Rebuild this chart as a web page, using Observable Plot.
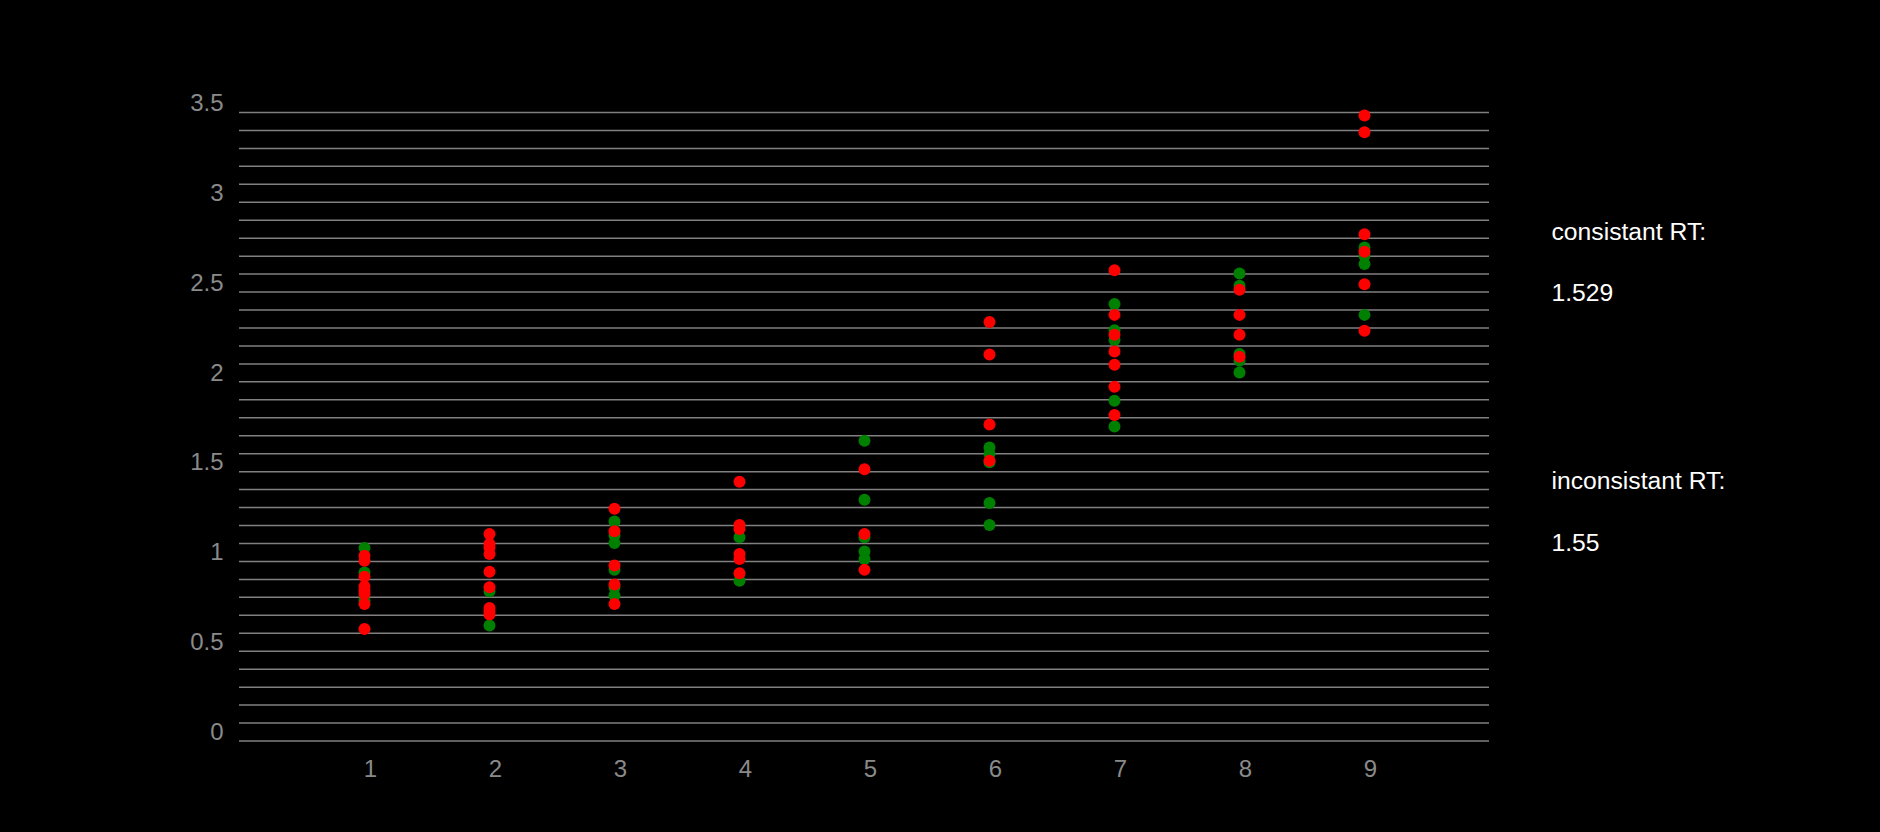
<!DOCTYPE html>
<html>
<head>
<meta charset="utf-8">
<script src="https://cdn.jsdelivr.net/npm/d3@7"></script>
<script src="https://cdn.jsdelivr.net/npm/@observablehq/plot@0.6"></script>
<style>
  html, body { margin: 0; padding: 0; background: #000; }
  #chart { width: 1880px; height: 832px; }
</style>
</head>
<body>
<div id="chart"></div>
<script>
// ---- data ----
const levels = [1, 2, 3, 4, 5, 6, 7, 8, 9];

// green dots
const consistentRT = [
  [1.075, 0.939, 0.782],
  [0.834, 0.643],
  [1.222, 1.144, 1.103, 0.954, 0.856, 0.810],
  [1.134, 0.893],
  [1.672, 1.344, 1.134, 1.055, 1.014],
  [1.635, 1.598, 1.552, 1.325, 1.203],
  [2.433, 2.288, 2.233, 1.895, 1.752],
  [2.603, 2.535, 2.155, 2.117, 2.052],
  [2.748, 2.702, 2.656, 2.373]
];

// red dots
const inconsistentRT = [
  [1.032, 1.004, 0.915, 0.860, 0.837, 0.819, 0.763, 0.624],
  [1.153, 1.097, 1.078, 1.042, 0.943, 0.856, 0.741, 0.721, 0.704],
  [1.294, 1.168, 0.977, 0.871, 0.763],
  [1.444, 1.203, 1.181, 1.042, 1.014, 0.934],
  [1.513, 1.153, 0.953],
  [2.333, 2.152, 1.763, 1.561],
  [2.622, 2.373, 2.262, 2.169, 2.095, 1.973, 1.815],
  [2.513, 2.373, 2.262, 2.140],
  [3.483, 3.390, 2.822, 2.725, 2.544, 2.284]
];

const yTickLabels = [0, 0.5, 1, 1.5, 2, 2.5, 3, 3.5];
const gridValues = d3.range(0, 36).map(i => i / 10);

const summaryLabels = ["consistant RT:", "1.529", "inconsistant RT:", "1.55"];

// ---- build rows ----
const rows = [
  ...levels.flatMap((lv, i) => consistentRT[i].map(v => ({level: lv, rt: v, kind: "consistent"}))),
  ...levels.flatMap((lv, i) => inconsistentRT[i].map(v => ({level: lv, rt: v, kind: "inconsistent"})))
];

const labelOffsets = [110, 171, 359, 421];

const chart = Plot.plot({
  width: 1880,
  height: 832,
  marginLeft: 239,
  marginRight: 391,
  marginTop: 112,
  marginBottom: 91.5,
  style: {
    background: "#000",
    color: "#8a8a8a",
    fontFamily: "'Liberation Sans', Arial, sans-serif",
    fontSize: "24px",
    overflow: "visible"
  },
  x: {domain: [0, 10]},
  y: {domain: [0, 3.5]},
  color: {domain: ["consistent", "inconsistent"], range: ["#008000", "#ff0000"]},
  marks: [
    Plot.ruleY(gridValues, {stroke: "#808080", strokeWidth: 1.5}),
    Plot.axisY(yTickLabels, {
      tickSize: 0, tickPadding: 16, dy: -9,
      fill: "#8a8a8a", fontSize: 24, label: null,
      tickFormat: d => String(d)
    }),
    Plot.axisX(levels, {
      tickSize: 0, tickPadding: 19, dx: 6,
      fill: "#8a8a8a", fontSize: 24, label: null,
      tickFormat: d => String(d)
    }),
    Plot.dot(rows, {x: "level", y: "rt", fill: "kind", r: 6, stroke: "none"}),
    ...summaryLabels.map((t, i) => Plot.text([t], {
      frameAnchor: "top-right", dx: 62, dy: labelOffsets[i],
      textAnchor: "start", fill: "#fff", fontSize: 24.7, text: d => d
    }))
  ]
});

document.getElementById("chart").appendChild(chart);
</script>
</body>
</html>
